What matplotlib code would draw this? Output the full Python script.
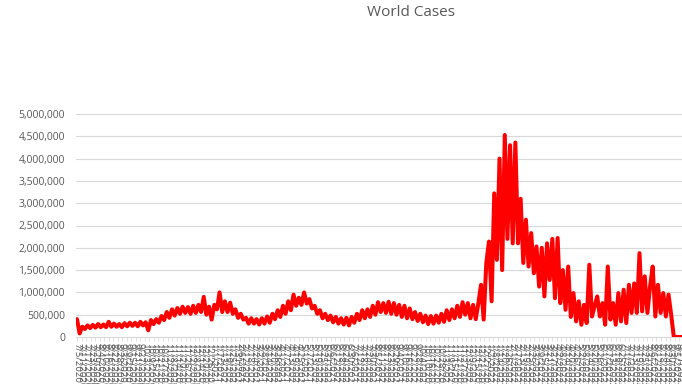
import matplotlib
matplotlib.use("Agg")
import matplotlib.pyplot as plt
import matplotlib.dates as mdates
from matplotlib.ticker import FuncFormatter, FixedLocator
import numpy as np
import datetime as dt

# ---- data (daily world cases, in thousands, about twice a week) ----
start_date = dt.date(2020, 7, 5)
step_days = 3.5
cases_thousands = [
    400, 80, 230, 180, 260, 200, 270, 210, 290, 220,
    280, 220, 340, 230, 300, 230, 290, 220, 310, 240,
    320, 250, 320, 240, 340, 260, 330, 150, 380, 290,
    400, 320,
    470, 380, 560, 430, 620, 480, 650, 520, 680, 540,
    670, 520, 700, 540, 720, 560, 900, 500, 680, 390,
    720, 620, 1000, 560, 800, 560,
    770, 520, 620, 430, 520, 390, 430, 300, 420, 300,
    400, 280, 420, 300, 460, 320, 520, 400, 600, 450,
    700, 520, 800, 600, 950, 700, 880, 720, 1000, 750,
    850, 640, 700, 520, 600, 420, 520, 380, 480, 330,
    450, 300, 420, 280, 430, 260, 450, 320, 520, 380,
    600, 420, 620, 450, 700, 500, 780, 560, 760, 540,
    790, 520, 760, 500, 720, 450, 700, 420, 640, 400,
    560, 360, 520, 330, 480, 290, 470, 300, 480, 320,
    520, 340, 600, 380, 620, 420, 700, 450, 780, 500,
    760, 420, 720, 400, 760, 1170, 390,
    1660, 2140, 800, 3220, 1730, 4000, 1500, 4530, 2200, 4300, 2100, 4360,
    2100, 3100, 1660, 2630, 1580, 2330, 1430, 2030, 1130, 2000, 910, 2100,
    1280, 2200, 870, 2220, 760, 1500, 610, 1580, 450, 985, 350, 800,
    275, 720, 313, 1620,
    460, 690, 910, 460, 760, 275, 1580, 390, 760, 275, 985, 350, 1060,
    313, 1170, 540, 1200, 540, 1880, 575, 1360, 540, 1130, 1580, 460,
    1170, 540, 985, 460, 950, 500,
    0, 0, 0, 0,
]
title_text = "World Cases"
y_ticks = [0, 500000, 1000000, 1500000, 2000000, 2500000, 3000000,
           3500000, 4000000, 4500000, 5000000]
label_every_days = 6

# ---- derived ----
values = np.array(cases_thousands, dtype=float) * 1000
start_num = mdates.date2num(dt.datetime.combine(start_date, dt.time()))
x = start_num + np.arange(len(values)) * step_days

gray_text = "#595959"
grid_col = "#D9D9D9"
font = "Open Sans"

fig = plt.figure(figsize=(6.82, 3.84), dpi=100)
ax = fig.add_axes([76/682, 1 - 337/384, (684-76)/682, (337-114)/384])

ax.plot(x, values, color="#FF0000", lw=2.9, solid_joinstyle="round",
        solid_capstyle="round", zorder=3)

ax.set_ylim(0, 5000000)
ax.set_yticks(y_ticks)
ax.yaxis.set_major_formatter(FuncFormatter(lambda v, p: f"{int(v):,}"))
ax.grid(axis="y", color=grid_col, lw=0.8, zorder=0)
ax.set_axisbelow(True)

ax.set_xlim(x[0] - 1.3, x[-1] + 3)
ticks = np.arange(x[0], x[-1] + 3, label_every_days)
ax.xaxis.set_major_locator(FixedLocator(ticks))

def fmt_date(v, p):
    d = mdates.num2date(v)
    return f"{d.month}/{d.day}/{d.year}"

ax.xaxis.set_major_formatter(FuncFormatter(fmt_date))

for s in ["top", "right", "left"]:
    ax.spines[s].set_visible(False)
ax.spines["bottom"].set_color(grid_col)
ax.spines["bottom"].set_linewidth(0.8)

ax.tick_params(axis="y", length=0, pad=8, labelsize=7.5, labelcolor=gray_text)
ax.tick_params(axis="x", length=3, width=0.6, color=grid_col, pad=1.5,
               labelsize=6.8, labelcolor=gray_text)
for lab in ax.get_yticklabels():
    lab.set_fontfamily(font)
for lab in ax.get_xticklabels():
    lab.set_fontfamily(font)
    lab.set_rotation(270)
    lab.set_ha("center")
    lab.set_va("top")

fig.text(411/682, 1 - 13/384, title_text, ha="center", va="center",
         fontsize=11, color=gray_text, fontfamily=font)

fig.savefig("out.png", dpi=100)
